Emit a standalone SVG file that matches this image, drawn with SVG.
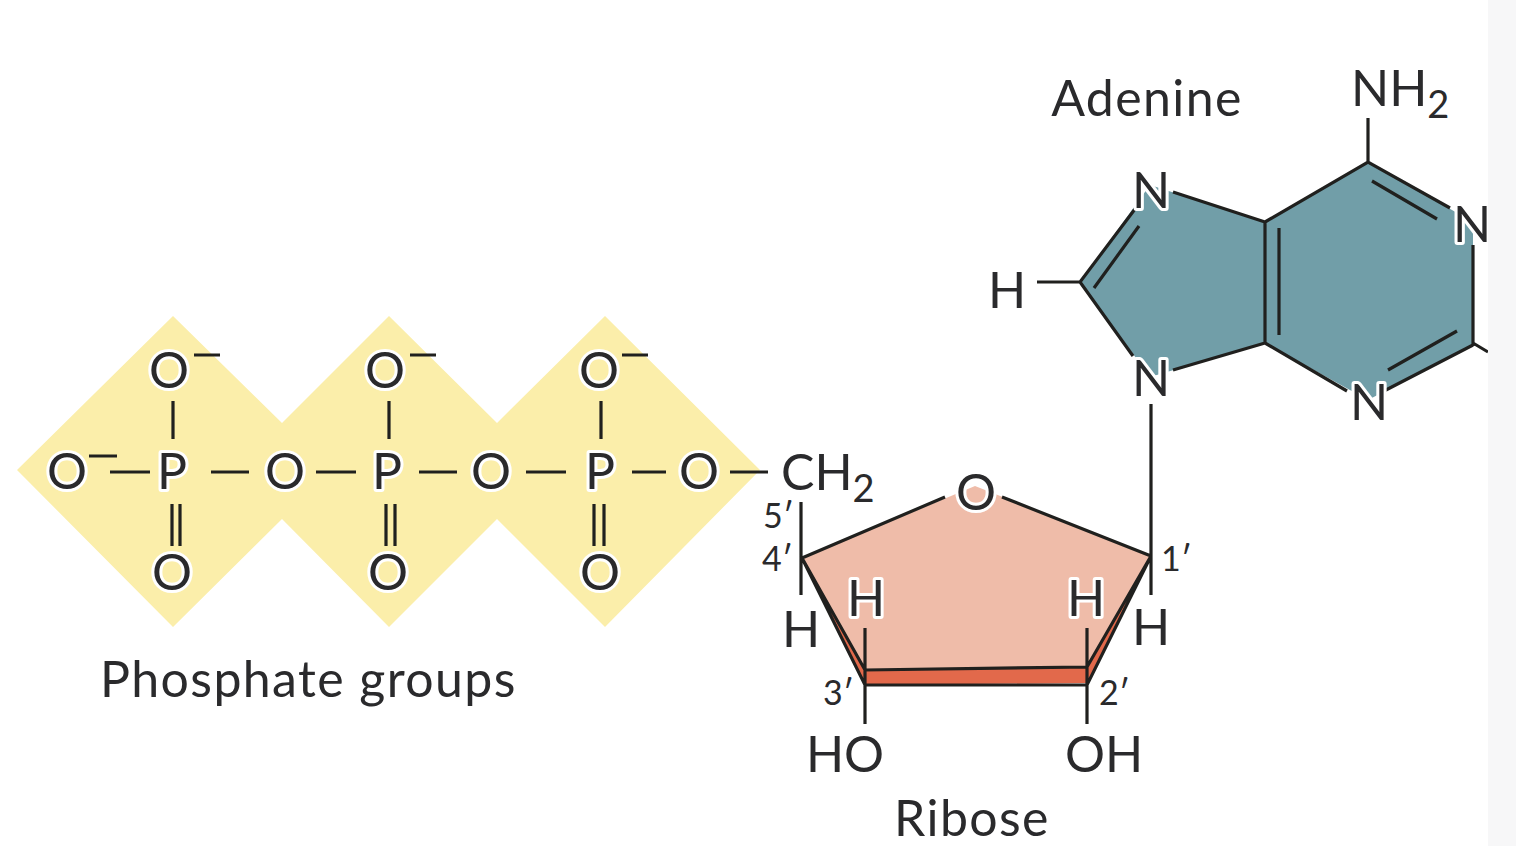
<svg xmlns="http://www.w3.org/2000/svg" width="1516" height="846" viewBox="0 0 1516 846">
<style>
text{font-family:"Lato","Liberation Sans",sans-serif;fill:#2a2a2c}
.a{font-size:50px}
.h{stroke:#fff;stroke-width:6px;paint-order:stroke;stroke-linejoin:round}
.l{font-size:50px;letter-spacing:1.4px}
.n{font-size:34px}
.b{stroke:#20201e;stroke-width:3.2;fill:none;stroke-linecap:butt}
</style>
<rect width="1516" height="846" fill="#fff"/>
<rect x="1488" width="28" height="846" fill="#f7f7f8"/>
<g id="phosphate-groups">
<polygon points="17,470 173,316 282,423 389,316 497,423 605,316 760,470 605,627 497,519 389,627 282,519 173,627" fill="#fbeeaa"/>
<text class="l" x="100" y="697">Phosphate groups</text>
</g>
<g id="ribose-ring">
<polygon points="802,558 975,486 1151,556 1087,683 865,685" fill="#efbca9"/>
<polygon points="802,558 865,670 1087,667 1151,556 1087,683 865,685" fill="#e2694b"/>
<text class="l" x="972" y="836" text-anchor="middle">Ribose</text>
</g>
<g id="adenine-ring">
<polygon points="1368,162 1473,222 1473,345 1368,400 1265,343 1150,377 1080,282 1150,185 1265,222" fill="#719ea8"/>
<text class="l" x="1147" y="116" text-anchor="middle">Adenine</text>
</g>
<g id="connectors" class="b">
<path d="M173 401V439M172 504V546M180 504V546M110 472H150M211 472H249M316 472H356M389 401V439M386 504V546M395 504V546M419 472H457M526 472H566M601 401V439M594 504V546M604 504V546M632 472H666M730 472H768"/>
<path d="M801 502V595M802 558L945 497M1002 497L1151 556M1151 404V595M802 558L865 685H1087L1151 556M802 558L865 670L1087 667L1151 556M865 628V724M1087 628V724"/>
<path d="M1368 118V162M1265 222L1368 162L1450 208M1372 181L1437 219M1473 245V346M1473 345L1384 391M1457 331L1388 370M1265 222V343L1347 391M1279 228V335M1265 222L1173 192M1265 343L1173 370M1135 209L1080 282L1133 356M1139 226L1094 288M1037 282H1080M1473 343L1488 352"/>
</g>
<g id="phosphate-atoms">
<text class="a h" x="169" y="388" text-anchor="middle">O</text><text class="a h" x="385" y="388" text-anchor="middle">O</text><text class="a h" x="599" y="388" text-anchor="middle">O</text>
<path d="M194 355H220M410 355H436M622 355H648M89 456H117" stroke="#20201e" stroke-width="3.2"/>
<text class="a h" x="67" y="489" text-anchor="middle">O</text>
<text class="a h" x="172" y="489" text-anchor="middle">P</text><text class="a h" x="387" y="489" text-anchor="middle">P</text><text class="a h" x="600" y="489" text-anchor="middle">P</text>
<text class="a h" x="285" y="489" text-anchor="middle">O</text><text class="a h" x="491" y="489" text-anchor="middle">O</text><text class="a h" x="699" y="489" text-anchor="middle">O</text>
<text class="a h" x="172" y="590" text-anchor="middle">O</text><text class="a h" x="388" y="590" text-anchor="middle">O</text><text class="a h" x="600" y="590" text-anchor="middle">O</text>
</g>
<g id="ribose-atoms">
<text class="a" x="781" y="490">CH<tspan font-size="38" dy="12">2</tspan></text>
<text class="a h" x="976" y="510" text-anchor="middle">O</text>
<text class="n" x="763" y="528">5′</text><text class="n" x="762" y="571">4′</text><text class="n" x="1161" y="571">1′</text><text class="n" x="823" y="705">3′</text><text class="n" x="1099" y="705">2′</text>
<text class="a" x="801" y="647" text-anchor="middle">H</text><text class="a" x="1151" y="645" text-anchor="middle">H</text>
<text class="a h" x="866" y="616" text-anchor="middle">H</text><text class="a h" x="1086" y="616" text-anchor="middle">H</text>
<text class="a" x="845" y="772" text-anchor="middle">HO</text><text class="a" x="1104" y="772" text-anchor="middle">OH</text>
</g>
<g id="adenine-atoms">
<text class="a" x="1351" y="106">NH<tspan font-size="38" dy="12">2</tspan></text>
<text class="a h" x="1151" y="208" text-anchor="middle">N</text><text class="a h" x="1151" y="396" text-anchor="middle">N</text><text class="a h" x="1369" y="420" text-anchor="middle">N</text><text class="a h" x="1472" y="242" text-anchor="middle">N</text>
<text class="a" x="1007" y="308" text-anchor="middle">H</text>
</g>
<rect x="1488" y="190" width="28" height="170" fill="#f7f7f8"/>
</svg>
